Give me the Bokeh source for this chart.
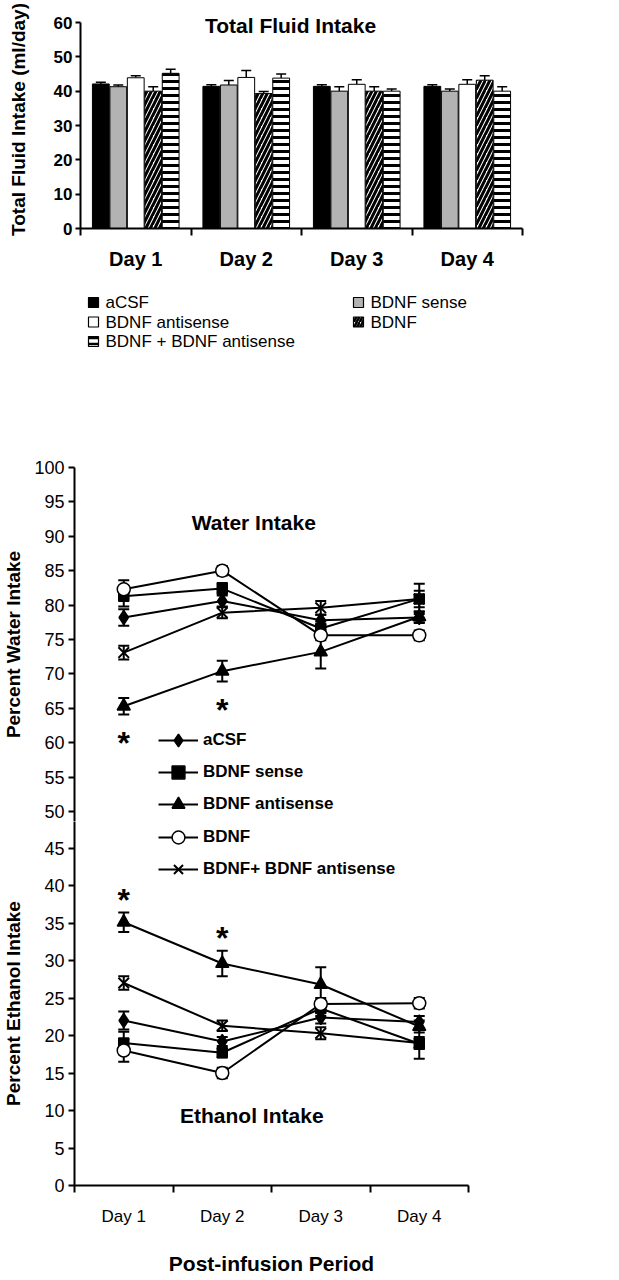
from bokeh.plotting import figure
from bokeh.layouts import column
from bokeh.models import (FixedTicker, Range1d, Whisker, ColumnDataSource, TeeHead,
                          Label, Legend, LegendItem)
from bokeh.core.properties import value
from bokeh.embed import file_html
from bokeh.resources import INLINE

FONT = "Liberation Sans"

# ---------------- data ----------------
days = ["Day 1", "Day 2", "Day 3", "Day 4"]
groups = ["aCSF", "BDNF sense", "BDNF antisense", "BDNF", "BDNF + BDNF antisense"]
line_labels = ["aCSF", "BDNF sense", "BDNF antisense", "BDNF", "BDNF+ BDNF antisense"]

# Total fluid intake (ml/day): mean and SEM
total_acsf = [42.1, 41.4, 41.4, 41.4]
total_acsf_err = [0.5, 0.5, 0.5, 0.5]
total_sense = [41.3, 41.8, 40.0, 40.0]
total_sense_err = [0.5, 1.3, 1.3, 0.6]
total_anti = [43.9, 44.0, 42.0, 42.0]
total_anti_err = [0.6, 2.0, 1.3, 1.3]
total_bdnf = [40.0, 39.3, 40.0, 43.2]
total_bdnf_err = [1.3, 0.6, 1.3, 1.3]
total_combo = [45.2, 43.8, 40.0, 40.0]
total_combo_err = [1.2, 1.2, 0.6, 1.3]

# Percent water intake
water_acsf = [78.2, 80.6, 77.8, 78.2]
water_acsf_err = [1.2, 0.8, 0.8, 0.8]
water_sense = [81.3, 82.4, 76.6, 80.9]
water_sense_err = [1.5, 0.8, 1.0, 1.2]
water_anti = [65.3, 70.4, 73.2, 78.3]
water_anti_err = [1.2, 1.5, 2.4, 0.8]
water_bdnf = [82.3, 85.0, 75.6, 75.6]
water_bdnf_err = [1.3, 0.7, 0.7, 0.7]
water_combo = [73.1, 78.9, 79.6, 80.9]
water_combo_err = [1.0, 0.8, 1.0, 2.2]

# Percent ethanol intake
eth_acsf = [22.0, 19.2, 22.4, 21.8]
eth_acsf_err = [1.2, 0.6, 0.8, 0.8]
eth_sense = [19.0, 17.7, 23.6, 18.9]
eth_sense_err = [1.5, 0.6, 1.0, 2.0]
eth_anti = [35.1, 29.6, 26.8, 21.2]
eth_anti_err = [1.3, 1.7, 2.3, 0.8]
eth_bdnf = [18.0, 15.0, 24.2, 24.3]
eth_bdnf_err = [1.5, 0.7, 0.8, 0.7]
eth_combo = [27.0, 21.3, 20.3, 19.0]
eth_combo_err = [0.9, 0.7, 0.8, 0.8]

# significant days (index into days) for BDNF antisense
sig_days = [0, 1]

total_means = [total_acsf, total_sense, total_anti, total_bdnf, total_combo]
total_errs = [total_acsf_err, total_sense_err, total_anti_err, total_bdnf_err, total_combo_err]
water_means = [water_acsf, water_sense, water_anti, water_bdnf, water_combo]
water_errs = [water_acsf_err, water_sense_err, water_anti_err, water_bdnf_err, water_combo_err]
eth_means = [eth_acsf, eth_sense, eth_anti, eth_bdnf, eth_combo]
eth_errs = [eth_acsf_err, eth_sense_err, eth_anti_err, eth_bdnf_err, eth_combo_err]

# ---------------- styles ----------------
bar_fill = ["black", "#b3b3b3", "white", "white", "white"]
bar_hatch = [None, None, None, "/", "-"]
bar_hatch_scale = [8, 8, 8, 9, 7]
bar_hatch_weight = [1, 1, 1, 3, 3]
markers = ["diamond", "square", "triangle", "circle", "x"]
marker_size = [14, 10, 13, 13, 15]
marker_fill = ["black", "black", "black", "white", "black"]

W = 619
xs_center = [i + 0.5 for i in range(len(days))]
day_overrides = {x: d for x, d in zip(xs_center, days)}


def plain(p):
    p.outline_line_color = None
    p.xgrid.grid_line_color = None
    p.ygrid.grid_line_color = None
    p.background_fill_color = "white"
    p.border_fill_color = "white"


def style_axis(ax, size, bold):
    ax.axis_line_color = "black"
    ax.axis_line_width = 2
    ax.major_tick_line_color = "black"
    ax.major_tick_line_width = 2
    ax.minor_tick_line_color = "black"
    ax.minor_tick_line_width = 2
    ax.major_label_text_color = "black"
    ax.major_label_text_font = FONT
    ax.major_label_text_font_size = size
    ax.major_label_text_font_style = "bold" if bold else "normal"
    ax.axis_label_text_color = "black"
    ax.axis_label_text_font = FONT


# ================= Figure A: Total fluid intake =================
A_ZERO_PX, A_SIXTY_PX, A_TOP_PX = 228, 22, 10
a_ppu = (A_ZERO_PX - A_SIXTY_PX) / 60.0
a_top = 60 + (A_SIXTY_PX - A_TOP_PX) / a_ppu
HA = 280
pA = figure(width=W, height=HA, x_range=Range1d(0, 4), y_range=Range1d(0, a_top),
            output_backend="svg", toolbar_location=None, frame_align=False,
            min_border_left=80, min_border_right=W - 522, min_border_top=A_TOP_PX,
            min_border_bottom=HA - A_ZERO_PX)
plain(pA)
offsets = [-0.316, -0.158, 0.0, 0.158, 0.316]
for k in range(len(groups)):
    src = ColumnDataSource(dict(
        x=[c + offsets[k] for c in xs_center],
        top=total_means[k],
        up=[m + e for m, e in zip(total_means[k], total_errs[k])],
    ))
    pA.vbar(x="x", top="top", bottom=0, width=0.152, source=src,
            fill_color=bar_fill[k], line_color="black", line_width=1,
            hatch_pattern=bar_hatch[k], hatch_color="black",
            hatch_scale=bar_hatch_scale[k], hatch_weight=bar_hatch_weight[k])
    pA.add_layout(Whisker(source=src, base="x", upper="up", lower="top",
                          line_color="black", line_width=1.5,
                          upper_head=TeeHead(size=10, line_width=1.5, line_color="black"),
                          lower_head=None))

style_axis(pA.xaxis[0], "20px", True)
pA.xaxis.ticker = FixedTicker(ticks=xs_center, minor_ticks=[0, 1, 2, 3, 4])
pA.xaxis.major_label_overrides = day_overrides
pA.xaxis.major_tick_out = 0
pA.xaxis.major_tick_in = 0
pA.xaxis.minor_tick_out = 7
pA.xaxis.minor_tick_in = 0
pA.xaxis.major_label_standoff = 12

style_axis(pA.yaxis[0], "17px", True)
pA.yaxis.ticker = FixedTicker(ticks=[0, 10, 20, 30, 40, 50, 60], minor_ticks=[])
pA.yaxis.bounds = (0, 60)
pA.yaxis.major_tick_out = 5
pA.yaxis.major_tick_in = 0
pA.yaxis.major_label_standoff = 3
pA.yaxis.axis_label = "Total Fluid Intake (ml/day)"
pA.yaxis.axis_label_text_font_size = "19px"
pA.yaxis.axis_label_text_font_style = "bold"
pA.yaxis.axis_label_standoff = 22

pA.add_layout(Label(x=(290 - 80) / 110.5, y=60 - (25 - A_SIXTY_PX) / a_ppu, text="Total Fluid Intake",
                    text_font=FONT, text_font_size="21px", text_font_style="bold",
                    text_align="center", text_baseline="middle", text_color="black"))

# ================= Figure B: legend for the bars =================
HB = 160
pB = figure(width=W, height=HB, x_range=Range1d(0, W), y_range=Range1d(HB, 0),
            output_backend="svg", toolbar_location=None, frame_align=False,
            x_axis_location=None, y_axis_location=None,
            min_border_left=0, min_border_right=0, min_border_top=0, min_border_bottom=0)
plain(pB)
col_x = [93, 358]
row_y0, row_dy = 22, 19.5
for k, g in enumerate(groups):
    cx = col_x[k % 2]
    cy = row_y0 + (k // 2) * row_dy
    pB.scatter([cx], [cy], marker="square", size=10, fill_color=bar_fill[k],
               line_color="black", line_width=1.2,
               hatch_pattern=bar_hatch[k], hatch_color="black",
               hatch_scale=6, hatch_weight=2.5)
    pB.text([cx + 12], [cy], text=[g], text_font=value(FONT), text_font_size="17px",
            text_baseline="middle", text_align="left", text_color="black")

# ================= Figures C/D: water and ethanol =================
C_START_PX = HA + HB
WATER_TOP_PX, SPLIT_PX, ETH_ZERO_PX = 467, 821, 1185
W_PPU, E_PPU = 6.88, 7.5
FRAME_LEFT_PX, FRAME_RIGHT_PX = 68, 468
water_bottom = 100 - (SPLIT_PX - WATER_TOP_PX) / W_PPU
eth_top = (ETH_ZERO_PX - SPLIT_PX) / E_PPU


def wy(px):
    return 100 - (px - WATER_TOP_PX) / W_PPU


def ey(px):
    return (ETH_ZERO_PX - px) / E_PPU


def lx(px):
    return (px - FRAME_LEFT_PX) / 100.0


HC = SPLIT_PX - C_START_PX
pC = figure(width=W, height=HC, x_range=Range1d(0, 4), y_range=Range1d(water_bottom, 100),
            output_backend="svg", toolbar_location=None, x_axis_location=None,
            frame_align=False,
            min_border_left=FRAME_LEFT_PX, min_border_right=W - FRAME_RIGHT_PX,
            min_border_top=WATER_TOP_PX - C_START_PX, min_border_bottom=0)
HD = 1280 - SPLIT_PX
pD = figure(width=W, height=HD, x_range=Range1d(0, 4), y_range=Range1d(0, eth_top),
            output_backend="svg", toolbar_location=None, frame_align=False,
            min_border_left=FRAME_LEFT_PX, min_border_right=W - FRAME_RIGHT_PX,
            min_border_top=0, min_border_bottom=HD - (ETH_ZERO_PX - SPLIT_PX))
for p in (pC, pD):
    plain(p)
    style_axis(p.yaxis[0], "18px", False)
    p.yaxis.major_tick_out = 6
    p.yaxis.major_tick_in = 0
    p.yaxis.major_label_standoff = 4
    p.yaxis.axis_label_text_font_size = "19px"
    p.yaxis.axis_label_text_font_style = "bold"
pC.yaxis.ticker = FixedTicker(ticks=[50, 55, 60, 65, 70, 75, 80, 85, 90, 95, 100], minor_ticks=[])
pD.yaxis.ticker = FixedTicker(ticks=[0, 5, 10, 15, 20, 25, 30, 35, 40, 45], minor_ticks=[])
pC.yaxis.axis_label = "Percent Water Intake"
pC.yaxis.axis_label_standoff = 7
pD.yaxis.axis_label = "Percent Ethanol Intake"
pD.yaxis.axis_label_standoff = 17

style_axis(pD.xaxis[0], "17px", False)
pD.xaxis.ticker = FixedTicker(ticks=xs_center, minor_ticks=[0, 1, 2, 3, 4])
pD.xaxis.major_label_overrides = day_overrides
pD.xaxis.major_tick_out = 0
pD.xaxis.major_tick_in = 0
pD.xaxis.minor_tick_out = 7
pD.xaxis.minor_tick_in = 0
pD.xaxis.major_label_standoff = 14
pD.xaxis.axis_label = "Post-infusion Period"
pD.xaxis.axis_label_text_font_size = "21px"
pD.xaxis.axis_label_text_font_style = "bold"
pD.xaxis.axis_label_standoff = 23

items_C, items_D = [], []
n_legend_C = 3
for p, means, errs, which in ((pC, water_means, water_errs, "C"), (pD, eth_means, eth_errs, "D")):
    for k in range(len(groups)):
        src = ColumnDataSource(dict(
            x=xs_center, y=means[k],
            up=[m + e for m, e in zip(means[k], errs[k])],
            lo=[m - e for m, e in zip(means[k], errs[k])],
        ))
        lr = p.line("x", "y", source=src, line_color="black", line_width=2)
        sr = p.scatter("x", "y", source=src, marker=markers[k], size=marker_size[k],
                       fill_color=marker_fill[k], line_color="black",
                       line_width=2 if markers[k] == "x" else 1.5)
        p.add_layout(Whisker(source=src, base="x", upper="up", lower="lo",
                             line_color="black", line_width=2,
                             upper_head=TeeHead(size=11, line_width=2, line_color="black"),
                             lower_head=TeeHead(size=11, line_width=2, line_color="black")))
        item = LegendItem(label=line_labels[k], renderers=[lr, sr])
        if which == "C" and k < n_legend_C:
            items_C.append(item)
        if which == "D" and k >= n_legend_C:
            items_D.append(item)

# significance asterisks (BDNF antisense)
anti = groups.index("BDNF antisense")
pC.text([xs_center[d] for d in sig_days],
        [water_means[anti][d] - water_errs[anti][d] - 4.1 for d in sig_days],
        text=["*"] * len(sig_days), text_font=value(FONT), text_font_size="32px",
        text_font_style="bold", text_align="center", text_baseline="middle", text_color="black")
pD.text([xs_center[d] for d in sig_days],
        [eth_means[anti][d] + eth_errs[anti][d] + 1.7 for d in sig_days],
        text=["*"] * len(sig_days), text_font=value(FONT), text_font_size="32px",
        text_font_style="bold", text_align="center", text_baseline="middle", text_color="black")

ROW_H, ROW_GAP = 32, 0


def make_legend(items, loc):
    return Legend(items=items, location=loc, padding=0, margin=0, spacing=ROW_GAP,
                  glyph_width=40, glyph_height=ROW_H, label_height=ROW_H, label_standoff=5,
                  border_line_color=None, background_fill_alpha=0,
                  label_text_font=FONT, label_text_font_size="17px",
                  label_text_font_style="bold", label_text_color="black")


LEG_X = 152 - FRAME_LEFT_PX
legC_top = 740 - ROW_H / 2
legC_bottom = legC_top + n_legend_C * ROW_H + (n_legend_C - 1) * ROW_GAP
pC.add_layout(make_legend(items_C, (LEG_X, SPLIT_PX - legC_bottom)))
n_D = len(groups) - n_legend_C
legD_top = 837 - ROW_H / 2
legD_bottom = legD_top + n_D * ROW_H + (n_D - 1) * ROW_GAP
pD.add_layout(make_legend(items_D, (LEG_X, ETH_ZERO_PX - legD_bottom)))

# panel titles
pC.add_layout(Label(x=lx(250), y=wy(522), text="Water Intake", text_font=FONT,
                    text_font_size="21px", text_font_style="bold", text_align="center",
                    text_baseline="middle", text_color="black"))
pD.add_layout(Label(x=lx(248), y=ey(1115), text="Ethanol Intake", text_font=FONT,
                    text_font_size="21px", text_font_style="bold", text_align="center",
                    text_baseline="middle", text_color="black"))

layout = column(pA, pB, pC, pD, spacing=0)
open("out.html", "w").write(file_html(layout, INLINE))
